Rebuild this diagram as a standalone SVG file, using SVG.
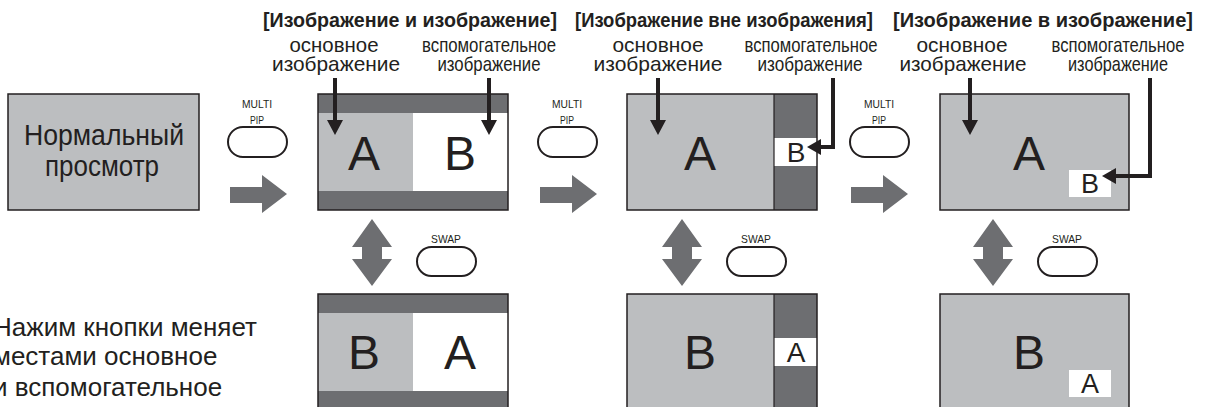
<svg xmlns="http://www.w3.org/2000/svg" width="1208" height="407" viewBox="0 0 1208 407">
<style>
.lg{fill:#bcbec0}
.dg{fill:#6d6e71}
.wh{fill:#fff}
.frame{fill:none;stroke:#231f20;stroke-width:1.5}
.div{stroke:#231f20;stroke-width:1.2}
.btn{fill:#fff;stroke:#231f20;stroke-width:2}
.t{font-family:"Liberation Sans",Arial,sans-serif;fill:#231f20}
.mid{text-anchor:middle}
.title{font-size:20px;font-weight:bold}
.lab{font-size:21px}
.big{font-size:48px}
.small{font-size:28px}
.btxt{font-size:11px}
.arr{fill:none;stroke:#231f20;stroke-width:4}
.head{fill:#231f20}
.garr{fill:#6d6e71}
</style>

<g id="titles" class="t title mid">
<text x="410" y="27" textLength="294" lengthAdjust="spacingAndGlyphs">[Изображение и изображение]</text>
<text x="724" y="27" textLength="298" lengthAdjust="spacingAndGlyphs">[Изображение вне изображения]</text>
<text x="1043" y="27" textLength="300" lengthAdjust="spacingAndGlyphs">[Изображение в изображение]</text>
</g>

<g id="labels" class="t lab mid">
<text x="334" y="52" textLength="89" lengthAdjust="spacingAndGlyphs">основное</text>
<text x="336" y="71" textLength="128" lengthAdjust="spacingAndGlyphs">изображение</text>
<text x="489" y="52" textLength="134" lengthAdjust="spacingAndGlyphs">вспомогательное</text>
<text x="489" y="71" textLength="103" lengthAdjust="spacingAndGlyphs">изображение</text>
<text x="658" y="52" textLength="91" lengthAdjust="spacingAndGlyphs">основное</text>
<text x="658" y="71" textLength="129" lengthAdjust="spacingAndGlyphs">изображение</text>
<text x="811" y="52" textLength="133" lengthAdjust="spacingAndGlyphs">вспомогательное</text>
<text x="810" y="71" textLength="105" lengthAdjust="spacingAndGlyphs">изображение</text>
<text x="962" y="52" textLength="91" lengthAdjust="spacingAndGlyphs">основное</text>
<text x="963" y="71" textLength="127" lengthAdjust="spacingAndGlyphs">изображение</text>
<text x="1118" y="52" textLength="133" lengthAdjust="spacingAndGlyphs">вспомогательное</text>
<text x="1118" y="71" textLength="100" lengthAdjust="spacingAndGlyphs">изображение</text>
</g>

<g id="node-normal">
<rect class="lg" x="8" y="94" width="191" height="116"/>
<rect class="frame" x="8" y="94" width="191" height="116"/>
<text class="t mid" x="104" y="145" font-size="29" textLength="160" lengthAdjust="spacingAndGlyphs">Нормальный</text>
<text class="t mid" x="102" y="176" font-size="29" textLength="114" lengthAdjust="spacingAndGlyphs">просмотр</text>
</g>

<g id="node-pbp-main">
<rect class="lg" x="318" y="94" width="190" height="116"/>
<rect class="wh" x="413" y="113" width="95" height="78"/>
<rect class="dg" x="318" y="94" width="190" height="19"/>
<rect class="dg" x="318" y="191" width="190" height="19"/>
<rect class="frame" x="318" y="94" width="190" height="116"/>
<text class="t big mid" x="364" y="170">A</text>
<text class="t big mid" x="460" y="170">B</text>
</g>

<g id="node-pbp-swap">
<rect class="lg" x="318" y="294" width="190" height="120"/>
<rect class="wh" x="413" y="313" width="95" height="78"/>
<rect class="dg" x="318" y="294" width="190" height="19"/>
<rect class="dg" x="318" y="391" width="190" height="19"/>
<rect class="frame" x="318" y="294" width="190" height="120"/>
<text class="t big mid" x="364" y="369">B</text>
<text class="t big mid" x="460" y="369">A</text>
</g>

<g id="node-pop-main">
<rect class="lg" x="627" y="94" width="190" height="116"/>
<rect class="dg" x="774" y="94" width="43" height="116"/>
<rect class="wh" x="774" y="138" width="43" height="28"/>
<line class="div" x1="774" y1="94" x2="774" y2="210"/>
<rect class="frame" x="627" y="94" width="190" height="116"/>
<text class="t big mid" x="700" y="170">A</text>
<text class="t small mid" x="796" y="162">B</text>
</g>

<g id="node-pop-swap">
<rect class="lg" x="627" y="294" width="190" height="120"/>
<rect class="dg" x="774" y="294" width="43" height="120"/>
<rect class="wh" x="774" y="338" width="43" height="28"/>
<line class="div" x1="774" y1="294" x2="774" y2="414"/>
<rect class="frame" x="627" y="294" width="190" height="120"/>
<text class="t big mid" x="700" y="369">B</text>
<text class="t small mid" x="796" y="362">A</text>
</g>

<g id="node-pip-main">
<rect class="lg" x="940" y="94" width="189" height="116"/>
<rect class="wh" x="1069" y="170" width="42" height="27"/>
<rect class="frame" x="940" y="94" width="189" height="116"/>
<text class="t big mid" x="1029" y="170">A</text>
<text class="t mid" x="1090" y="193" font-size="27">B</text>
</g>

<g id="node-pip-swap">
<rect class="lg" x="940" y="294" width="189" height="120"/>
<rect class="wh" x="1069" y="370" width="42" height="27"/>
<rect class="frame" x="940" y="294" width="189" height="120"/>
<text class="t big mid" x="1029" y="369">B</text>
<text class="t mid" x="1090" y="393" font-size="27">A</text>
</g>

<g id="node-btn-multi1">
<text class="t btxt mid" x="257" y="108" textLength="30" lengthAdjust="spacingAndGlyphs">MULTI</text>
<text class="t btxt mid" x="257" y="124" textLength="14" lengthAdjust="spacingAndGlyphs">PIP</text>
<rect class="btn" x="228" y="127" width="59" height="30" rx="15"/>
</g>
<g id="node-btn-multi2">
<text class="t btxt mid" x="567" y="108" textLength="30" lengthAdjust="spacingAndGlyphs">MULTI</text>
<text class="t btxt mid" x="567" y="124" textLength="14" lengthAdjust="spacingAndGlyphs">PIP</text>
<rect class="btn" x="538" y="127" width="59" height="30" rx="15"/>
</g>
<g id="node-btn-multi3">
<text class="t btxt mid" x="879" y="108" textLength="30" lengthAdjust="spacingAndGlyphs">MULTI</text>
<text class="t btxt mid" x="879" y="124" textLength="14" lengthAdjust="spacingAndGlyphs">PIP</text>
<rect class="btn" x="850" y="127" width="59" height="30" rx="15"/>
</g>
<g id="node-btn-swap1">
<text class="t btxt mid" x="446" y="243" textLength="30" lengthAdjust="spacingAndGlyphs">SWAP</text>
<rect class="btn" x="417" y="247" width="59" height="29" rx="14.5"/>
</g>
<g id="node-btn-swap2">
<text class="t btxt mid" x="756" y="243" textLength="30" lengthAdjust="spacingAndGlyphs">SWAP</text>
<rect class="btn" x="727" y="247" width="59" height="29" rx="14.5"/>
</g>
<g id="node-btn-swap3">
<text class="t btxt mid" x="1067" y="243" textLength="30" lengthAdjust="spacingAndGlyphs">SWAP</text>
<rect class="btn" x="1038" y="247" width="59" height="29" rx="14.5"/>
</g>

<g id="note" class="t" font-size="26">
<text x="-7" y="336">Нажим кнопки меняет</text>
<text x="-7" y="365">местами основное</text>
<text x="-7" y="396">и вспомогательное</text>
</g>

<g id="connectors">
<polygon class="garr" points="230,187 262,187 262,175 287,194 262,213 262,203 230,203"/>
<polygon class="garr" points="540,187 572,187 572,175 597,194 572,213 572,203 540,203"/>
<polygon class="garr" points="851,187 883,187 883,175 908,194 883,213 883,203 851,203"/>
<polygon class="garr" points="372,219 392,247 382,247 382,259 392,259 372,286 352,259 362,259 362,247 352,247"/>
<polygon class="garr" points="682,219 702,247 692,247 692,259 702,259 682,286 662,259 672,259 672,247 662,247"/>
<polygon class="garr" points="993,219 1013,247 1003,247 1003,259 1013,259 993,286 973,259 983,259 983,247 973,247"/>
<line class="arr" x1="335" y1="78" x2="335" y2="122"/>
<polygon class="head" points="327,120 343,120 335,135"/>
<line class="arr" x1="489" y1="78" x2="489" y2="122"/>
<polygon class="head" points="481,120 497,120 489,135"/>
<line class="arr" x1="658" y1="78" x2="658" y2="122"/>
<polygon class="head" points="650,120 666,120 658,135"/>
<polyline class="arr" points="833,78 833,147 819,147"/>
<polygon class="head" points="821,139 821,155 807,147"/>
<line class="arr" x1="970" y1="78" x2="970" y2="122"/>
<polygon class="head" points="962,120 978,120 970,135"/>
<polyline class="arr" points="1150,78 1150,176 1114,176"/>
<polygon class="head" points="1116,168 1116,184 1102,176"/>
</g>
</svg>
